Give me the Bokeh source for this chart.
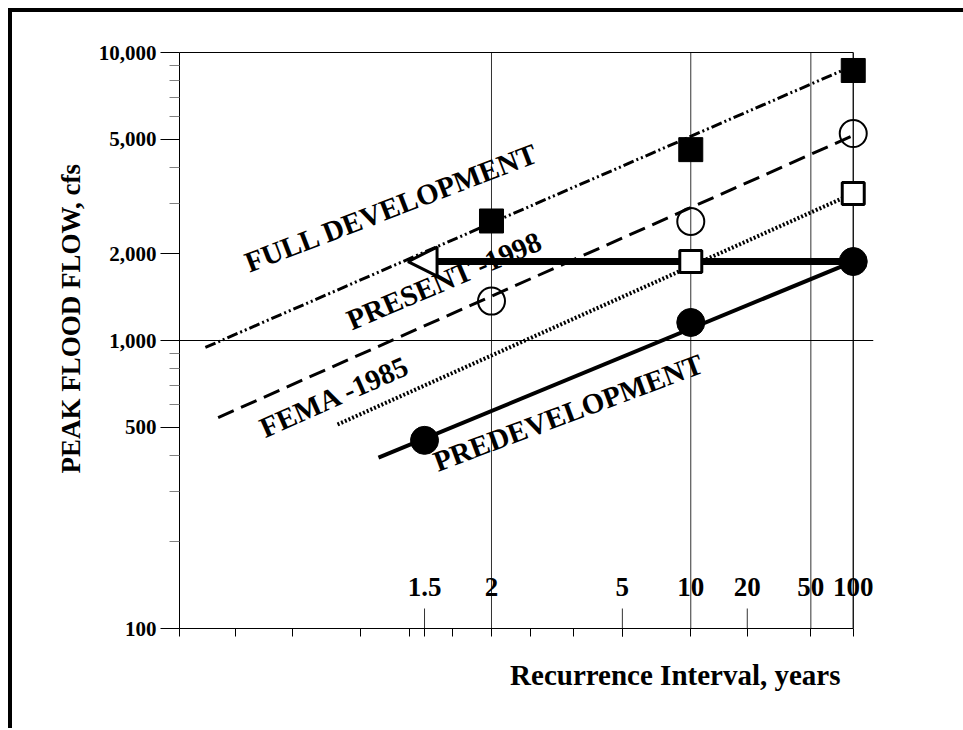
import math
from statistics import NormalDist
from bokeh.plotting import figure
from bokeh.models import (Range1d, FixedTicker, LinearAxis, Span, Arrow, NormalHead,
                          Title, NumeralTickFormatter, ColumnDataSource)
from bokeh.core.properties import value
from bokeh.embed import file_html
from bokeh.resources import INLINE

# ---------------- data ----------------
# recurrence-interval axis (normal probability scale)
T_LABELS = [1.5, 2, 5, 10, 20, 50, 100]
T_LABEL_TEXT = ["1.5", "2", "5", "10", "20", "50", "100"]
T_GRID = [2, 10, 50]
T_UPTICK = [1.5, 5, 20]
T_RIGHT = 100
P_MINOR = [0.05, 0.10, 0.20, 0.30, 0.40, 0.60, 0.70, 0.80]   # non-exceedance probs

# flow axis (log)
Y_MAJOR = [100, 500, 1000, 2000, 5000, 10000]
Y_MINOR = [200, 300, 400, 600, 700, 800, 900, 3000, 4000, 6000, 7000, 8000, 9000]
Y_LINE = 1000

# peak flows, cfs
full_T = [2, 10, 100]
full_Q = [2600, 4600, 8660]
present_T = [2, 10, 100]
present_Q = [1370, 2590, 5230]
fema_T = [10, 100]
fema_Q = [1880, 3240]
predev_T = [1.5, 10, 100]
predev_Q = [450, 1155, 1880]

# fitted frequency lines (end points)
full_line_T = [1.034, 100]
full_line_Q = [946, 9000]
present_line_T = [1.041, 100]
present_line_Q = [540, 5150]
fema_line_T = [1.192, 100]
fema_line_Q = [511, 3240]
predev_line_T = [1.305, 100]
predev_line_Q = [392, 1880]

# arrow: 100-yr predevelopment flow carried back to the ~1.4-yr full-development event
arrow_T = [100, 1.42]
arrow_Q = [1880, 1880]

# curve names
curve_names = ["FULL DEVELOPMENT", "PRESENT -1998", "FEMA -1985", "PREDEVELOPMENT"]

# ---------------- layout / style ----------------
ND = NormalDist()


def zt(T):
    return ND.inv_cdf(1.0 - 1.0 / T)


def zs(Ts):
    return [zt(t) for t in Ts]


X_START, X_END = -2.0064, 2.4566
name_T = [1.351, 1.613, 1.185, 3.211]
name_Q = [2896, 1616, 639, 562]
name_angle = [math.radians(a) for a in (21, 23, 24, 20.5)]

FONT = "Liberation Serif"

p = figure(frame_width=694, frame_height=576,
           min_border_left=167, min_border_right=90, min_border_top=40, min_border_bottom=100,
           x_range=Range1d(X_START, X_END), y_range=Range1d(100, 10000),
           y_axis_type="log", output_backend="svg", toolbar_location=None,
           outline_line_color=None, background_fill_color="white", border_fill_color="white",
           styles={"margin-left": "8px", "margin-top": "8px",
                   "border-left": "4px solid black", "border-top": "4px solid black"})
p.grid.visible = False

# y axis
ya = p.yaxis[0]
ya.ticker = FixedTicker(ticks=Y_MAJOR, minor_ticks=Y_MINOR)
ya.formatter = NumeralTickFormatter(format="0,0")
ya.major_label_text_font = FONT
ya.major_label_text_font_style = "bold"
ya.major_label_text_font_size = "21px"
ya.major_label_text_color = "black"
ya.major_label_standoff = 4
ya.major_tick_out = 19
ya.major_tick_in = 0
ya.minor_tick_out = 10
ya.minor_tick_in = 0
ya.major_tick_line_color = "black"
ya.minor_tick_line_color = "#808080"
ya.axis_line_color = "black"

# x axis: only unlabeled ticks (labels are drawn inside the plot)
xa = p.xaxis[0]
xa.ticker = FixedTicker(ticks=[],
                        minor_ticks=[X_START] + [ND.inv_cdf(q) for q in P_MINOR] + zs(T_LABELS))
xa.bounds = (X_START, zt(T_RIGHT))
xa.minor_tick_in = 0
xa.minor_tick_out = 8
xa.minor_tick_line_color = "black"
xa.axis_line_color = "black"

top = LinearAxis(ticker=FixedTicker(ticks=[]), bounds=(X_START, zt(T_RIGHT)),
                 major_tick_out=0, minor_tick_out=0, axis_line_color="black")
p.add_layout(top, "above")

# axis titles
p.add_layout(Title(text="Recurrence Interval, years", align="right", offset=33,
                   text_font=FONT, text_font_style="bold", text_font_size="29px",
                   text_color="black", standoff=41), "below")
p.add_layout(Title(text="PEAK FLOOD FLOW, cfs", align="left", offset=155,
                   text_font=FONT, text_font_style="bold", text_font_size="27px",
                   text_color="black", standoff=19), "left")

# grid lines
for t in T_GRID:
    p.add_layout(Span(location=zt(t), dimension="height", line_color="#333333",
                      line_width=1, level="underlay"))
p.add_layout(Span(location=zt(T_RIGHT), dimension="height", line_color="black",
                  line_width=1.3, level="underlay"))
p.add_layout(Span(location=Y_LINE, dimension="width", line_color="black",
                  line_width=1, level="underlay"))

# short upward ticks at labeled intervals (lower half clipped by the frame)
p.scatter(zs(T_UPTICK), [Y_MAJOR[0]] * len(T_UPTICK), marker="dash", angle=math.pi / 2,
          size=40, line_color="#333333", line_width=1)

# frequency lines
p.line(zs(full_line_T), full_line_Q, line_color="black", line_width=3,
       line_dash="11 3 2 3 2 3")
p.line(zs(present_line_T), present_line_Q, line_color="black", line_width=3,
       line_dash="17 8")
p.line(zs(fema_line_T), fema_line_Q, line_color="black", line_width=4,
       line_dash="2 2")
p.line(zs(predev_line_T), predev_line_Q, line_color="black", line_width=4)

# arrow
p.add_layout(Arrow(end=NormalHead(size=29, fill_color="white", line_color="black",
                                  line_width=3),
                   x_start=zt(arrow_T[0]), y_start=arrow_Q[0],
                   x_end=zt(arrow_T[1]), y_end=arrow_Q[1],
                   line_color="black", line_width=7, level="underlay"))

# markers
p.scatter(zs(full_T), full_Q, marker="square", size=24, fill_color="black",
          line_color="black")
p.scatter(zs(present_T), present_Q, marker="circle", size=27, fill_color=None,
          line_color="black", line_width=2)
p.scatter(zs(fema_T), fema_Q, marker="square", size=22, fill_color="white",
          line_color="black", line_width=3)
p.scatter(zs(predev_T), predev_Q, marker="circle", size=28, fill_color="black",
          line_color="black")

# curve names
src = ColumnDataSource(dict(x=zs(name_T), y=name_Q, text=curve_names, angle=name_angle))
p.text(x="x", y="y", text="text", angle="angle", source=src,
       text_font=value(FONT), text_font_style="bold", text_font_size="29px",
       text_align="center", text_baseline="middle", text_color="black")

# recurrence interval labels inside plot
p.text(x=zs(T_LABELS), y=[Y_MAJOR[0]] * len(T_LABELS), text=T_LABEL_TEXT,
       y_offset=-42, text_font=value(FONT), text_font_style="bold",
       text_font_size="27px", text_align="center", text_baseline="middle",
       text_color="black")

open("out.html", "w").write(file_html(p, INLINE))
